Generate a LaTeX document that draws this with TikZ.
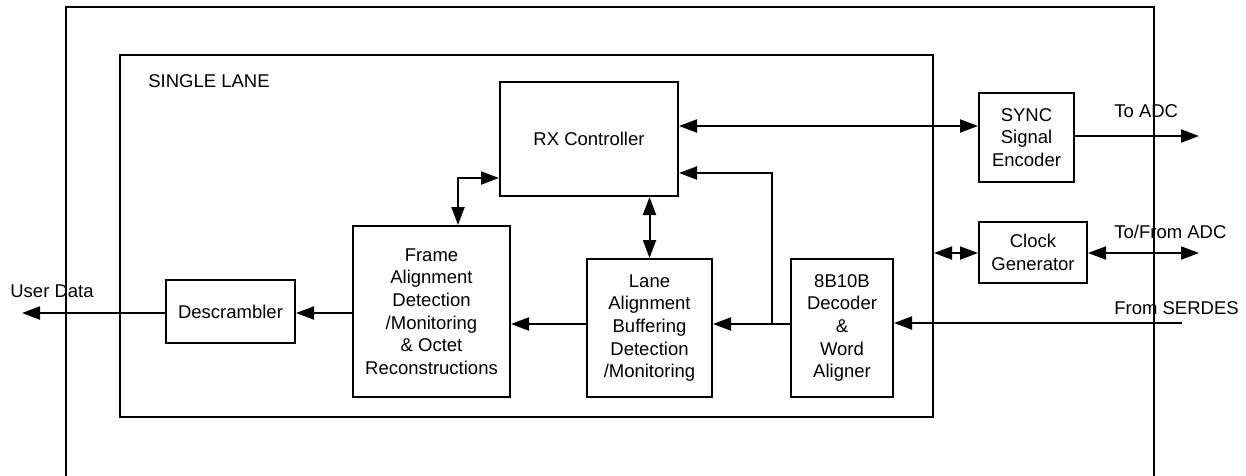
\documentclass[tikz,border=0pt]{standalone}
\usepackage{fontspec}
\setmainfont{Liberation Sans}
\usetikzlibrary{arrows.meta}
\begin{document}
\begin{tikzpicture}[x=1pt, y=-1pt, line width=2pt,
  font=\fontsize{18.5}{22.7}\selectfont,
  blk/.style={draw, rectangle, align=center, inner sep=0pt},
  arr/.style={-{Triangle[length=18pt, width=13pt]}},
  dbl/.style={{Triangle[length=18pt, width=13pt]}-{Triangle[length=18pt, width=13pt]}}]
\useasboundingbox (0,0) rectangle (1246,475);
\draw (66,480) -- (66,7) -- (1154,7) -- (1154,480);
\draw (120,55) rectangle (933,417);
\node[anchor=west] (lanelbl) at (144,81) {SINGLE LANE};
\node[blk, minimum width=129pt, minimum height=63pt] (desc) at (230.5,311.5) {Descrambler};
\node[blk, minimum width=157pt, minimum height=171pt] (frame) at (431.5,311.5) {Frame\\Alignment\\Detection\\/Monitoring\\\& Octet\\Reconstructions};
\node[blk, minimum width=178pt, minimum height=114pt] (rx) at (589,139) {RX Controller};
\node[blk, minimum width=125pt, minimum height=138pt] (lane) at (649.5,328) {Lane\\Alignment\\Buffering\\Detection\\/Monitoring};
\node[blk, minimum width=102pt, minimum height=138pt] (dec) at (842,328) {8B10B\\Decoder\\\&\\Word\\Aligner};
\node[blk, minimum width=95pt, minimum height=89pt] (sync) at (1026.5,137.5) {SYNC\\Signal\\Encoder};
\node[blk, minimum width=108pt, minimum height=61pt] (clk) at (1033,252.5) {Clock\\Generator};
\node (userlbl) at (52,291) {User Data};
\node[anchor=west] (toadc) at (1110,111) {To ADC};
\node[anchor=west] (tofrom) at (1110,232) {To/From ADC};
\node[anchor=west] (fromser) at (1110,308) {From SERDES};
\coordinate (userout) at (22,313);
\coordinate (jn) at (772,324);
\coordinate (syncout) at (1199,136);
\coordinate (laneedge) at (934,253);
\coordinate (clkout) at (1199,253);
\coordinate (serin) at (1182,323);
\draw[arr] ([yshift=-1.5pt]frame.west) -- ([yshift=-1.5pt]frame.west -| desc.east);
\draw[arr] ([yshift=-1.5pt]desc.west) -- (userout);
\draw[dbl] ([xshift=26.5pt]frame.north) |- ([yshift=-39pt]rx.west);
\draw[dbl] (rx.south -| lane.north) -- (lane.north);
\draw[arr] ([yshift=4pt]lane.west) -- ([yshift=4pt]lane.west -| frame.east);
\draw[arr] ([yshift=4pt]dec.west) -- ([yshift=4pt]dec.west -| lane.east);
\draw[arr] (jn) |- ([yshift=-34pt]rx.east);
\draw[dbl] ([yshift=13pt]rx.east) -- ([yshift=13pt]rx.east -| sync.west);
\draw[arr] (sync.east |- syncout) -- (syncout);
\draw[dbl] (laneedge) -- (laneedge -| clk.west);
\draw[dbl] (clk.east |- clkout) -- (clkout);
\draw[arr] (serin) -- (serin -| dec.east);
\end{tikzpicture}
\end{document}
